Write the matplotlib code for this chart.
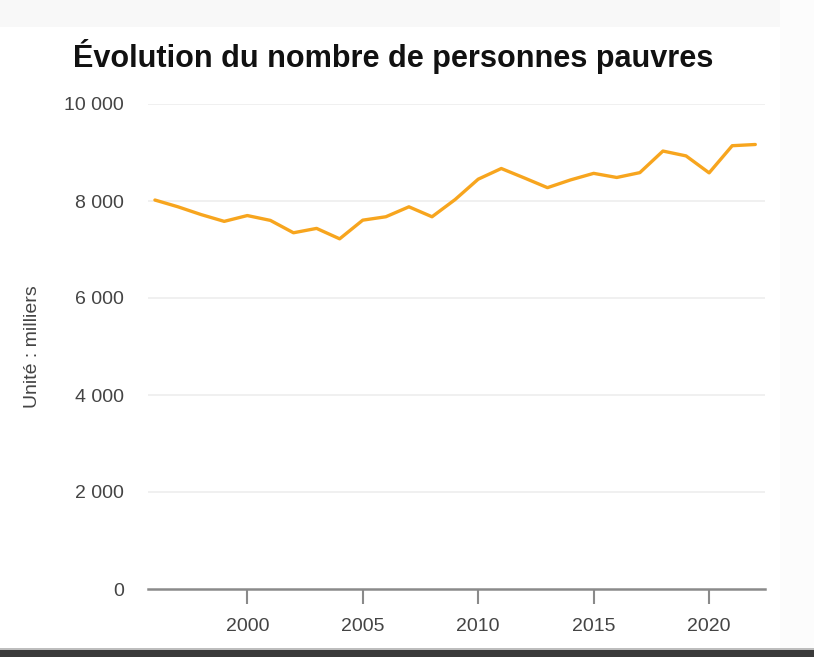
import matplotlib
matplotlib.use("Agg")
import matplotlib.pyplot as plt
from matplotlib.patches import Rectangle

years = list(range(1996, 2023))
pauvres = [8020, 7880, 7720, 7580, 7700, 7600, 7345, 7435, 7220, 7605,
           7675, 7880, 7675, 8030, 8450, 8670, 8475, 8275, 8435, 8570,
           8485, 8585, 9030, 8930, 8580, 9140, 9165]
y_ticks = [0, 2000, 4000, 6000, 8000, 10000]
y_tick_labels = ["0", "2 000", "4 000", "6 000", "8 000", "10 000"]
x_ticks = [2000, 2005, 2010, 2015, 2020]
title = "Évolution du nombre de personnes pauvres"
y_label = "Unité : milliers"

plt.rcParams['font.family'] = ['Liberation Sans', 'DejaVu Sans']

W, H = 814, 657
fig = plt.figure(figsize=(W / 100, H / 100), dpi=100)
fig.patch.set_facecolor("white")

# background frame pieces
fig.patches.append(Rectangle((0, 1 - 27 / H), 1, 27 / H, transform=fig.transFigure,
                             facecolor="#f8f8f8", edgecolor="none", zorder=0))
fig.patches.append(Rectangle((780 / W, 0), 1 - 780 / W, 1, transform=fig.transFigure,
                             facecolor="#fcfcfc", edgecolor="none", zorder=0))
fig.patches.append(Rectangle((0, 0), 1, 7 / H, transform=fig.transFigure,
                             facecolor="#3a3a3a", edgecolor="none", zorder=1))
fig.patches.append(Rectangle((0, 7 / H), 1, 2 / H, transform=fig.transFigure,
                             facecolor="#bdbdbd", edgecolor="none", zorder=1))

left, right, top, bottom = 148, 765, 104, 589
ax = fig.add_axes([left / W, 1 - bottom / H, (right - left) / W, (bottom - top) / H])
ax.set_facecolor("white")

ax.plot(years, pauvres, color="#f7a51e", linewidth=2.4, solid_joinstyle="round",
        solid_capstyle="round", zorder=3)

ax.set_ylim(0, 10000)
ax.set_xlim(1995.7, 2022.42)
ax.set_yticks(y_ticks)
ax.set_yticklabels(y_tick_labels)
ax.set_xticks(x_ticks)
ax.set_xticklabels([str(x) for x in x_ticks])

for yv in y_ticks[1:]:
    ax.axhline(yv, color="#efefef", linewidth=1.3, zorder=1)

for s in ["top", "right", "left"]:
    ax.spines[s].set_visible(False)
ax.spines["bottom"].set_color("#8a8a8a")
ax.spines["bottom"].set_linewidth(1.8)
ax.spines["bottom"].set_zorder(2)

ax.tick_params(axis="y", length=0, pad=17.5, labelsize=14, labelcolor="#444444")
ax.tick_params(axis="x", length=11, width=1.5, color="#8a8a8a", pad=10,
               labelsize=14, labelcolor="#444444")

ax.set_ylabel(y_label, fontsize=14, color="#444444")
ax.yaxis.set_label_coords((41 - left) / (right - left), 0.5)

fig.text(73 / W, 1 - 57 / H, title, fontsize=22.1, fontweight="bold", color="#111111",
         ha="left", va="center")

fig.savefig("out.png", dpi=100)
